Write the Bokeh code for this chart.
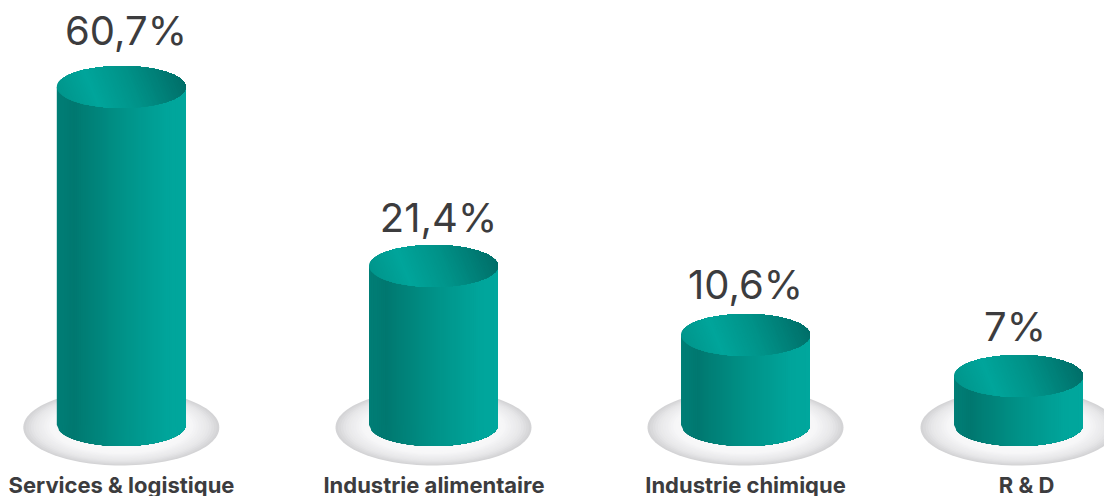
import numpy as np
from bokeh.embed import file_html
from bokeh.models import Range1d
from bokeh.plotting import figure
from bokeh.resources import INLINE
from bokeh.core.properties import value as fixed

categories = ["Services & logistique", "Industrie alimentaire", "Industrie chimique", "R & D"]
shares = [60.7, 21.4, 10.6, 7.0]
share_labels = ["60,7%", "21,4%", "10,6%", "7%"]

# Cylinder heights follow the infographic's own, non-linear value scale.
SCALE_VALUES = [0.0, 7.0, 10.6, 21.4, 60.7]
SCALE_HEIGHTS = [0.0, 49.0, 90.0, 159.0, 338.0]

WIDTH, HEIGHT = 1104, 496
CENTERS = [120.8, 433, 745, 1018]
LABEL_X = [121, 433.5, 745, 1026]
VALUE_X = [125.5, 438, 745, 1014.5]
VALUE_ANCHOR = [466, 279, 212, 170]
LABEL_ANCHOR = 12
BASE_Y = 71.5
RX, RY = 64.5, 21
DISC_RX, DISC_RY = 98, 38
DISC_Y = 69


def height_of(v):
    return float(np.interp(v, SCALE_VALUES, SCALE_HEIGHTS))


def blend(c0, c1, t):
    r = [round(a + (b - a) * t) for a, b in zip(c0, c1)]
    return "#%02x%02x%02x" % tuple(r)


def shades(stops, t):
    for (t0, c0), (t1, c1) in zip(stops, stops[1:]):
        if t <= t1:
            return blend(c0, c1, (t - t0) / (t1 - t0))
    return blend(stops[-1][1], stops[-1][1], 0)


BODY_STOPS = [(0, (0, 126, 118)), (0.12, (0, 120, 112)), (0.5, (0, 146, 136)), (0.85, (0, 165, 155)), (1, (0, 167, 157))]
TOP_STOPS = [(0, (0, 150, 140)), (0.25, (0, 165, 155)), (0.55, (0, 148, 138)), (1, (0, 110, 104))]
DISC_STOPS = [(0, (212, 212, 214)), (0.1, (230, 230, 232)), (0.3, (247, 247, 248)), (1, (255, 255, 255))]

xs, ys, colors = [], [], []


def add(px, py, color):
    xs.append(list(np.round(px, 2)))
    ys.append(list(np.round(py, 2)))
    colors.append(color)


def add_disc(cx):
    # Nested ellipses drift upward so the rim is darkest along the bottom.
    steps = 36
    a = np.linspace(0, 2 * np.pi, 120)
    for i in range(steps):
        t = i / (steps - 1)
        sx = DISC_RX * (1 - t * 0.92)
        sy = DISC_RY * (1 - t * 0.92)
        add(cx + sx * np.cos(a), DISC_Y + 5 * t + sy * np.sin(a), shades(DISC_STOPS, t))


def add_body(cx, top):
    # Each strip runs to the right edge and is painted over by the next one.
    steps = 65
    for i in range(steps):
        t = i / (steps - 1)
        left = cx - RX + 2 * RX * t
        px = np.linspace(left, cx + RX, 40)
        lower = BASE_Y - RY * np.sqrt(np.clip(1 - ((px - cx) / RX) ** 2, 0, 1))
        add(np.r_[left, px, cx + RX], np.r_[top, lower, top], shades(BODY_STOPS, t))


def add_top(cx, top):
    # Gradient on the lid runs on a diagonal, lit at the lower left.
    a = np.linspace(0, 2 * np.pi, 240)
    ex, ey = RX * np.cos(a), RY * np.sin(a)
    dx, dy = 0.92, 0.39
    proj = ex * dx + ey * dy
    lo, hi = proj.min(), proj.max()
    steps = 60
    for i in range(steps):
        t = i / (steps - 1)
        mask = proj >= lo + (hi - lo) * t * 0.999
        if mask.sum() < 3:
            continue
        ang = np.arctan2(ey[mask], ex[mask] * RY / RX)
        start = np.arctan2(dy * RY, dx * RX)
        order = np.argsort(((ang - start + np.pi) % (2 * np.pi)))
        add(cx + ex[mask][order], top + ey[mask][order], shades(TOP_STOPS, t))


for cx, share in zip(CENTERS, shares):
    add_disc(cx)
for cx, share in zip(CENTERS, shares):
    top_y = BASE_Y + height_of(share)
    add_body(cx, top_y)
    add_top(cx, top_y)

p = figure(
    width=WIDTH, height=HEIGHT, output_backend="svg", toolbar_location=None,
    x_range=Range1d(0, WIDTH), y_range=Range1d(0, HEIGHT), min_border=0,
)
p.axis.visible = False
p.grid.visible = False
p.outline_line_color = None
p.background_fill_color = "white"
p.border_fill_color = "white"

p.patches(xs, ys, fill_color=colors, line_color=None)

p.text(VALUE_X, VALUE_ANCHOR, text=share_labels, text_font=fixed("Inter"), text_font_size="40px",
       text_color="#3c3c3e", text_align="center", text_baseline="alphabetic")
p.text(LABEL_X, [LABEL_ANCHOR] * 4, text=categories, text_font=fixed("Inter"), text_font_size="22px",
       text_font_style="bold", text_color="#3c3c3e", text_align="center", text_baseline="alphabetic")

open("out.html", "w").write(file_html(p, INLINE))
